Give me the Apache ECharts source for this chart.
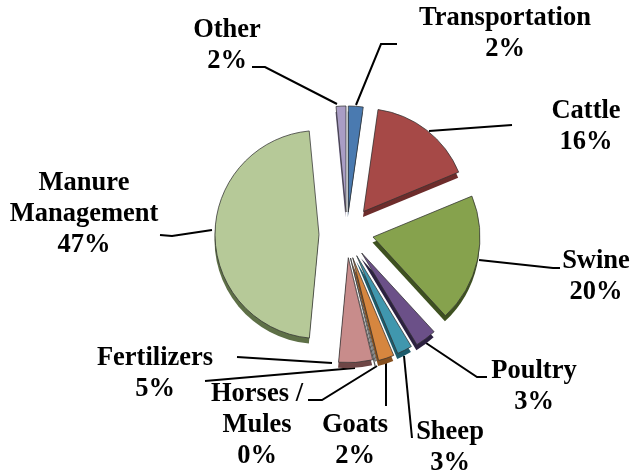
<!DOCTYPE html>
<html>
<head>
<meta charset="utf-8">
<script src="https://cdn.jsdelivr.net/npm/echarts@6/dist/echarts.min.js"></script>
<style>
  html, body { margin: 0; background: #fff; }
  #chart { width: 631px; height: 474px; }
</style>
</head>
<body>
<div id="chart"></div>
<script>
const names = ["Transportation", "Cattle", "Swine", "Poultry", "Sheep", "Goats", "Horses /\nMules", "Fertilizers", "Manure\nManagement", "Other"];
// slice sizes, the printed labels are rounded
const values = [2.25, 16.5, 19.4, 3.2, 2.3, 2.4, 0.2, 5.2, 47, 1.5];
const shown = ["2%", "16%", "20%", "3%", "3%", "2%", "0%", "5%", "47%", "2%"];

const colors = ["#4a7ab0", "#a64947", "#86a24d", "#6b5088", "#4097ae", "#d6863f", "#e8e8e8", "#c88c8b", "#b6c998", "#a99dc5"];
const darks = ["#27415f", "#6d2c2b", "#3e5120", "#2c2140", "#1d5c6c", "#86501f", "#555555", "#6e4646", "#5e7047", "#675c7e"];

// exploded pie: tip of each slice and its radius
const tips = [[348.3, 212], [363.5, 211.5], [373, 237], [361.7, 253], [356.7, 255.7], [352.7, 257.7], [350.5, 258], [348.3, 257.7], [319, 234.5], [346, 212]];
const radii = [106, 103, 107, 107, 106, 106, 106, 105, 104, 106];

// label centres and leader lines
const labelPos = [[505, 34], [586, 127], [596, 277], [534, 387], [450, 448], [355, 441], [257, 425], [155, 374], [84, 214], [227, 46]];
const leaders = [
  [[397, 44], [381, 44], [356, 105]],
  [[512, 125], [429, 131]],
  [[560, 268], [553, 268], [479, 260]],
  [[487, 377], [477, 377], [426, 343]],
  [[412, 438], [404, 356]],
  [[386, 406], [386, 363]],
  [[308, 400], [322, 400], [377, 366]],
  [[237, 357], [332, 363]],
  [[160, 235], [172, 236], [212, 230]],
  [[252, 67], [265, 67], [337, 104]],
  [[205, 381], [355, 368]]
];

const total = values.reduce((a, b) => a + b, 0);

// every slice is its own pie so it can be pulled out by its own distance
const sliceSeries = (i, start, palette, dx, dy, z, itemStyle) => ({
  type: "pie",
  name: names[i],
  center: [tips[i][0] + dx, tips[i][1] + dy],
  radius: [0, radii[i]],
  startAngle: 90 - start / total * 360,
  silent: true,
  label: { show: false },
  labelLine: { show: false },
  z: z,
  data: [
    { value: values[i], name: names[i], itemStyle: Object.assign({ color: palette[i] }, itemStyle) },
    { value: total - values[i], itemStyle: { color: "rgba(0,0,0,0)", borderWidth: 0 } }
  ]
});

const series = [];
let sum = 0;
values.forEach((v, i) => {
  series.push(sliceSeries(i, sum, darks, -0.5, 5.5, 2, { borderWidth: 0 }));
  series.push(sliceSeries(i, sum, colors, 0, 0, 3, { borderColor: "rgba(50,50,50,0.75)", borderWidth: 1 }));
  sum += v;
});

const graphic = [];
leaders.forEach((pts) => {
  graphic.push({
    type: "polyline",
    shape: { points: pts },
    style: { stroke: "#000", lineWidth: 2, fill: null },
    z: 1
  });
});
names.forEach((n, i) => {
  graphic.push({
    type: "text",
    x: labelPos[i][0],
    y: labelPos[i][1],
    style: {
      text: n + "\n" + shown[i],
      font: "bold 26.5px 'Liberation Serif'",
      lineHeight: 31,
      fill: "#000",
      align: "center",
      verticalAlign: "middle"
    },
    z: 5
  });
});

const chart = echarts.init(document.getElementById("chart"));
chart.setOption({
  animation: false,
  backgroundColor: "#fff",
  graphic: graphic,
  series: series
});
</script>
</body>
</html>
